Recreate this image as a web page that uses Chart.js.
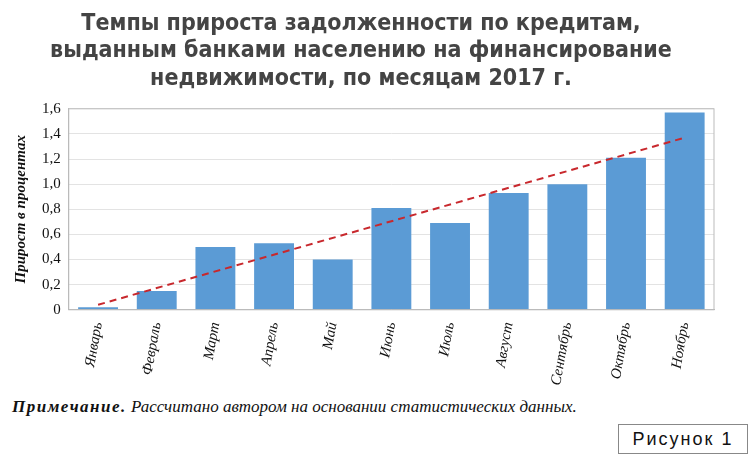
<!DOCTYPE html>
<html><head><meta charset="utf-8">
<script src="https://cdn.jsdelivr.net/npm/chart.js@4"></script>
<style>
body{margin:0;background:#fff;width:750px;height:456px;position:relative;overflow:hidden}
#wrap{position:absolute;left:0;top:0;width:750px;height:390px}
#note{position:absolute;left:12px;top:397px;font:italic 17px 'Liberation Serif',serif;color:#111}
#note b{letter-spacing:1.5px}
#fig{position:absolute;left:618px;top:424px;width:128px;height:28px;border:1px solid #888;font:18px 'Liberation Sans',sans-serif;letter-spacing:2px;text-align:center;line-height:28px;color:#111}
</style></head><body>
<div id="wrap"><canvas id="myChart"></canvas></div>
<div id="note"><b>Примечание.</b> Рассчитано автором на основании статистических данных.</div>
<div id="fig">Рисунок 1</div>
<script>
const months = ['Январь','Февраль','Март','Апрель','Май','Июнь','Июль','Август','Сентябрь','Октябрь','Ноябрь'];
const growth = [0.02, 0.15, 0.50, 0.53, 0.40, 0.81, 0.69, 0.93, 1.00, 1.21, 1.57];
const trend = [0.04, null, null, null, null, null, null, null, null, null, 1.37];

const ctx = document.getElementById('myChart').getContext('2d');
new Chart(ctx, {
    data: {
        labels: months,
        datasets: [{
            type: 'line',
            data: trend,
            spanGaps: true,
            borderColor: '#c8282d',
            borderDash: [7, 5],
            borderWidth: 2,
            pointRadius: 0,
            order: 0
        }, {
            type: 'bar',
            data: growth,
            backgroundColor: '#5b9bd5',
            barPercentage: 0.68,
            categoryPercentage: 1,
            order: 1
        }]
    },
    options: {
        responsive: true,
        maintainAspectRatio: false,
        animation: false,
        layout: {padding: {left: 8, right: 36, top: 4}},
        plugins: {
            legend: {display: false},
            tooltip: {enabled: false},
            title: {
                display: true,
                text: ['Темпы прироста задолженности по кредитам,',
                       'выданным банками населению на финансирование',
                       'недвижимости, по месяцам 2017 г.'],
                color: '#444',
                font: {family: 'DejaVu Sans Condensed', size: 23, weight: 'bold', lineHeight: 1.2},
                padding: {top: 6, bottom: 16}
            }
        },
        scales: {
            x: {
                grid: {display: false},
                border: {color: '#bbb'},
                ticks: {
                    color: '#111', maxRotation: 80, minRotation: 80,
                    font: {family: 'Liberation Serif', style: 'italic', size: 15}
                }
            },
            y: {
                min: 0, max: 1.6,
                grid: {color: '#e3e3e3', drawTicks: false},
                border: {color: '#bbb'},
                ticks: {
                    stepSize: 0.2, padding: 8, color: '#111',
                    font: {family: 'Liberation Serif', size: 15},
                    callback: v => v === 0 ? '0' : v.toFixed(1).replace('.', ',')
                },
                title: {
                    display: true,
                    text: 'Прирост в процентах',
                    color: '#111',
                    font: {family: 'Liberation Serif', style: 'italic', weight: 'bold', size: 15}
                }
            }
        }
    },
    plugins: [{
        id: 'frame',
        afterDraw(c) {
            const a = c.chartArea, g = c.ctx;
            g.save(); g.strokeStyle = '#bbb'; g.lineWidth = 1;
            g.strokeRect(a.left, a.top, a.right - a.left, a.bottom - a.top);
            g.restore();
        }
    }]
});
</script>
</body></html>
